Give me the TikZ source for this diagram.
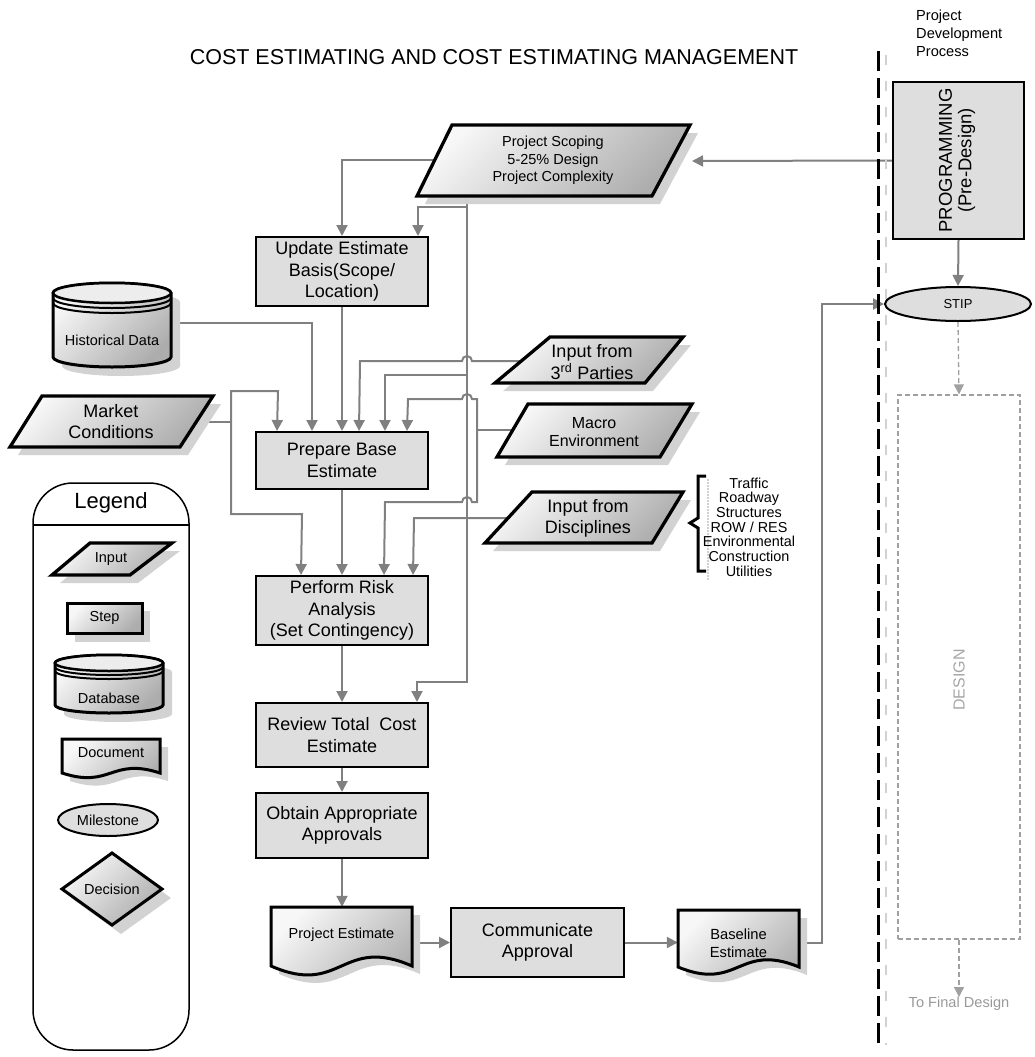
\documentclass[tikz,border=0pt]{standalone}
\usepackage{fontspec}
\setmainfont{Liberation Sans}
\usetikzlibrary{arrows.meta,shapes.geometric,backgrounds,calc}

\definecolor{linegray}{HTML}{808080}
\definecolor{boxgray}{HTML}{DEDEDE}
\definecolor{shadowgray}{HTML}{D2D2D2}
\definecolor{paleline}{HTML}{A0A0A0}

\tikzset{
  conn/.style={draw=linegray, line width=2pt},
  arr/.style={conn, -{Triangle[length=11pt,width=11pt]}},
  palearr/.style={draw=paleline, line width=1.3pt, dash pattern=on 5pt off 3pt,
    -{Triangle[length=10pt,width=10pt]}},
  bigtext/.style={font=\fontsize{18}{21.5}\selectfont},
  smalltext/.style={font=\fontsize{14.5}{17.5}\selectfont},
  stepbox/.style={rectangle, draw=black, line width=2pt, fill=boxgray, inner sep=0pt,
    minimum width=172pt, align=center, bigtext},
  shaded/.style={top color=black!3, bottom color=black!32, shading angle=45},
  inshape/.style={draw=black, line width=3.3pt, line join=miter, shaded},
  dbshape/.style={draw=black, line width=3pt, shaded},
  docline/.style={draw=black, line width=3pt, line join=miter, shaded},
  label/.style={inner sep=0pt, align=center},
}

% input / parallelogram: top y, bottom y, top-left x, top-right x, bottom-right x, bottom-left x
\newcommand{\quadshape}[6]{%
  \fill[shadowgray] ({#3+8},{#1+8}) -- ({#4+8},{#1+8}) -- ({#5+8},{#2+8}) -- ({#6+8},{#2+8}) -- cycle;
  \draw[inshape] (#3,#1) -- (#4,#1) -- (#5,#2) -- (#6,#2) -- cycle;
}

% database: left x, right x, top y, bottom y, cap radius
\newcommand{\cylshape}[5]{%
  \pgfmathsetmacro\cylrx{(#2-#1)/2}%
  \pgfmathsetmacro\cylcx{(#1+#2)/2}%
  \pgfmathsetmacro\cylra{#5/2}%
  \fill[shadowgray] ({#1+9},{#3+#5+9}) -- ({#1+9},{#4-#5+9})
    arc[start angle=180,end angle=360,x radius=\cylrx pt,y radius=#5pt]
    -- ({#2+9},{#3+#5+9})
    arc[start angle=0,end angle=180,x radius=\cylrx pt,y radius=#5pt] -- cycle;
  \draw[dbshape] (#1,{#3+#5}) -- (#1,{#4-#5})
    arc[start angle=180,end angle=360,x radius=\cylrx pt,y radius=#5pt]
    -- (#2,{#3+#5})
    arc[start angle=0,end angle=180,x radius=\cylrx pt,y radius=#5pt] -- cycle;
  \draw[line width=2.5pt, fill=black!7] (\cylcx,{#3+#5}) ellipse[x radius=\cylrx pt,y radius=#5pt];
  \draw[line width=2pt] (#1,{#3+#5+\cylra}) arc[start angle=180,end angle=360,x radius=\cylrx pt,y radius=#5pt];
  \draw[line width=2pt] (#1,{#3+#5+#5}) arc[start angle=180,end angle=360,x radius=\cylrx pt,y radius=#5pt];
}

% document: left x, right x, top y, bottom y (at the ends), wave size
\newcommand{\docshape}[5]{%
  \pgfmathsetmacro\docmid{(#1+#2)/2}%
  \fill[shadowgray] ({#1+8},{#3+8}) -- ({#2+8},{#3+8}) -- ({#2+8},{#4+8})
    .. controls ({\docmid+8},{#4-#5+8}) and ({\docmid+8},{#4+#5+8}) .. ({#1+8},{#4+8}) -- cycle;
  \draw[docline] (#1,#3) -- (#2,#3) -- (#2,#4)
    .. controls (\docmid,{#4-#5}) and (\docmid,{#4+#5}) .. (#1,#4) -- cycle;
}

\begin{document}
\begin{tikzpicture}[x=1pt,y=-1pt]
\useasboundingbox (0,0) rectangle (1035,1057);

% ---------- heading ----------
\node[font=\fontsize{21.5}{26}\selectfont, inner sep=0pt] (title) at (494,57)
  {COST ESTIMATING AND COST ESTIMATING MANAGEMENT};

% ---------- project development process lane ----------
\node[anchor=west, align=left, inner sep=0pt, font=\fontsize{14.6}{18}\selectfont] (pdp)
  at (916,33) {Project\\Development\\Process};
\draw[black!18, line width=2pt, dash pattern=on 10pt off 16pt] (886,55) -- (886,1045);
\draw[black, line width=3pt, dash pattern=on 20pt off 7pt] (878,51) -- (878,1045);

\node[rectangle, draw=black, line width=2pt, fill=boxgray, minimum width=131pt,
  minimum height=157pt, inner sep=0pt] (prog) at (958.5,160.5) {};
\node[rotate=90, label, font=\fontsize{18.5}{19.5}\selectfont] (progtext) at (957,160.5)
  {PROGRAMMING\\(Pre-Design)};

\node[ellipse, draw=black, line width=2pt, fill=boxgray, minimum width=146pt,
  minimum height=34pt, inner sep=0pt, font=\fontsize{13}{15}\selectfont] (stip) at (958,304) {STIP};

\node[rectangle, draw=paleline, line width=1.3pt, dash pattern=on 5pt off 3pt,
  minimum width=122pt, minimum height=544pt, inner sep=0pt] (design) at (959,667) {};
\node[rotate=90, text=black!35, inner sep=0pt, font=\fontsize{16}{19}\selectfont] (designtext)
  at (959,680) {DESIGN};
\node[text=black!40, inner sep=0pt, font=\fontsize{14.6}{17}\selectfont] (final)
  at (959,1004) {To Final Design};

% ---------- inputs ----------
\quadshape{125}{196}{452}{690}{652}{417}
\node[label, font=\fontsize{14.5}{17.5}\selectfont] (scope) at (553,160.5)
  {Project Scoping\\5-25\% Design\\Project Complexity};
\coordinate (scope-e) at (692,161);
\coordinate (scope-w) at (435,160);
\coordinate (scope-b) at (467,196);

\cylshape{53}{171}{283}{367}{10}
\node[label, smalltext] (hist) at (112,340) {Historical Data};
\coordinate (hist-e) at (171,323);

\quadshape{396}{447}{42}{213}{180}{10}
\node[label, bigtext] (mkt) at (111,421.5) {Market\\Conditions};
\coordinate (mkt-e) at (196,422);

\quadshape{337}{383}{550}{683}{645}{495}
\node[label, bigtext] (p3) at (592,362) {Input from\\3\textsuperscript{rd} Parties};
\coordinate (p3-w) at (521,361);

\quadshape{404}{457}{528}{692}{660}{497}
\node[label, font=\fontsize{16}{17.5}\selectfont] (mac) at (594,432) {Macro\\Environment};
\coordinate (mac-w) at (513,430);

\quadshape{492}{543}{532}{683}{652}{485}
\node[label, bigtext] (dis) at (588,518.5) {Input from\\Disciplines};
\coordinate (dis-w) at (508,518);

% disciplines list with its brace
\draw[black!18, line width=2pt, dash pattern=on 2pt off 1pt] (708,479) -- (708,580);
\draw[black, line width=3pt, line join=miter] (706,476) -- (698,476) -- (698,518) -- (690,523)
  -- (698,528) -- (698,571) -- (706,571);
\node[label, font=\fontsize{14.4}{14.7}\selectfont] (dislist) at (749,527)
  {Traffic\\Roadway\\Structures\\ROW / RES\\Environmental\\Construction\\Utilities};

% ---------- estimating steps ----------
\node[stepbox, minimum height=69pt] (upd) at (342,271.5) {Update Estimate\\Basis(Scope/\\Location)};
\node[stepbox, minimum height=57pt] (prep) at (342,460.5) {Prepare Base\\Estimate};
\node[stepbox, minimum height=69pt] (risk) at (342,610.5) {Perform Risk\\Analysis\\(Set Contingency)};
\node[stepbox, minimum height=64pt] (rev) at (342,735) {Review Total\ \ Cost\\Estimate};
\node[stepbox, minimum height=65pt] (obt) at (342,825.5) {Obtain Appropriate\\Approvals};

\docshape{271}{412}{907}{966}{31}
\node[label, smalltext, minimum width=141pt, minimum height=56pt] (pe) at (341.5,935) {Project Estimate};

\node[stepbox, minimum width=173pt, minimum height=69pt] (comm) at (537.5,942.5) {Communicate\\Approval};

\docshape{678}{799}{910}{967}{25}
\node[label, font=\fontsize{14.7}{17.5}\selectfont, minimum width=121pt] (base) at (738.5,943)
  {Baseline\\Estimate};

% ---------- legend ----------
\draw[black, line width=1.5pt, rounded corners=40pt] (33,483) rectangle (189,1050);
\draw[black, line width=1.5pt] (33,525) -- (189,525);
\node[inner sep=0pt, font=\fontsize{22}{26}\selectfont] (legtitle) at (111,503) {Legend};

\quadshape{543}{575}{90}{172}{130}{52}
\node[label, smalltext] (lg-in) at (111,559) {Input};

\fill[shadowgray] (75,611) rectangle (150,642);
\node[rectangle, draw=black, line width=3pt, shaded, minimum width=75pt, minimum height=30pt,
  inner sep=0pt, smalltext] (lg-step) at (104.5,618) {Step};

\cylshape{55}{163}{655}{713}{8}
\node[label, smalltext] (lg-db) at (109,698) {Database};

\docshape{62}{160}{739}{773}{16}
\node[label, smalltext] (lg-doc) at (111,753) {Document};

\node[ellipse, draw=black, line width=2pt, fill=boxgray, minimum width=100pt, minimum height=32pt,
  inner sep=0pt, smalltext] (lg-ms) at (108,820) {Milestone};

\fill[shadowgray] (121,862) -- (171,898) -- (121,934) -- (71,898) -- cycle;
\draw[black, line width=3pt, line join=miter, shaded] (112,853) -- (162,889) -- (112,925) -- (62,889) -- cycle;
\node[label, smalltext] (lg-dec) at (112,889) {Decision};

% ---------- connectors ----------
\begin{pgfonlayer}{background}
  \draw[arr] (prog.west) -- (scope-e);
  \draw[arr] (prog.south) -- (stip.north);
  \draw[palearr] (stip.south) -- (design.north);
  \draw[palearr] (design.south) -- (final.north);

  \draw[arr] (scope-w) -| (upd.north);
  \draw[arr] (scope-b) -- (467,207) -| ([xshift=163pt]upd.north west);
  \draw[arr] (467,207) -- (467,682) -| ([xshift=162pt]rev.north west);
  \draw[arr] (467,375) -| ([xshift=130pt]prep.north west);

  \draw[arr] (upd.south) -- (prep.north);
  \draw[arr] (hist-e) -| ([xshift=57pt]prep.north west);

  \draw[conn] (mkt-e) -- (231,422);
  \draw[arr] (231,422) |- (278,391) -- ([xshift=22pt]prep.north west);
  \draw[arr] (231,422) |- (302,514) -- ([xshift=46pt]risk.north west);

  \draw[arr] (p3-w) -- (472,361) arc[start angle=0,end angle=180,radius=5pt]
    -- (360,361) -- ([xshift=104pt]prep.north west);

  \draw[conn] (mac-w) -- (477,430);
  \draw[arr] (477,430) -- (477,399) -- (472,399) arc[start angle=0,end angle=180,radius=5pt]
    -- (408,399) -- ([xshift=152pt]prep.north west);
  \draw[arr] (477,430) -- (477,502) -- (472,502) arc[start angle=0,end angle=180,radius=5pt]
    -- (385,502) -- ([xshift=129pt]risk.north west);

  \draw[arr] (dis-w) -- (414,518) -- ([xshift=158pt]risk.north west);

  \draw[arr] (prep.south) -- (risk.north);
  \draw[arr] (risk.south) -- (rev.north);
  \draw[arr] (rev.south) -- (obt.north);
  \draw[arr] (obt.south) -- (obt.south |- pe.north);
  \draw[arr] (pe.east |- comm.west) -- (comm.west);
  \draw[arr] (comm.east) -- (comm.east -| base.west);
  \draw[arr] (base.east) -- (822,943) |- (stip.west);
\end{pgfonlayer}

\end{tikzpicture}
\end{document}
